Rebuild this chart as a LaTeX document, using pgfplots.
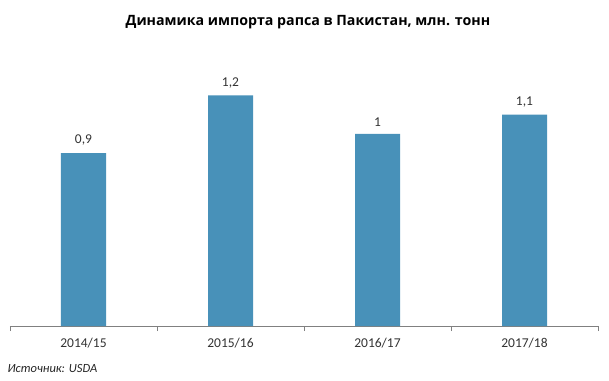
\documentclass[border=0pt]{standalone}
\usepackage{fontspec}
\setmainfont{Carlito}
\newfontfamily\titlefont{Open Sans}
\usepackage{pgfplots}
\pgfplotsset{compat=1.18}
\definecolor{barblue}{HTML}{4891B9}
\definecolor{axgray}{HTML}{808080}
\begin{document}
\begin{tikzpicture}
\useasboundingbox (0,0) rectangle (609pt,380pt);
\fill[white] (0,0) rectangle (609pt,380pt);
\begin{axis}[
  at={(10pt,54pt)}, anchor=south west,
  scale only axis, width=588pt, height=269pt,
  xmin=-0.5, xmax=3.5, ymin=0, ymax=1.4,
  axis y line=none,
  axis x line*=bottom,
  x axis line style={axgray, line width=0.8pt, -},
  xtick={0,1,2,3}, xticklabels={2014/15,2015/16,2016/17,2017/18},
  minor xtick={-0.5,0.5,1.5,2.5,3.5},
  major tick length=0pt,
  minor tick length=5pt,
  tick style={axgray, line width=0.8pt},
  xtick pos=bottom,
  tick align=outside,
  x tick label style={font=\fontsize{13.5}{15}\selectfont, text=black!80, yshift=-9pt},
  ybar, bar width=45pt,
  nodes near coords,
  nodes near coords style={font=\fontsize{13.5}{15}\selectfont, text=black!80, yshift=4pt},
  point meta=explicit symbolic,
  clip=false,
]
\addplot[fill=barblue, draw=none] coordinates {(0,0.9) [0,9] (1,1.2) [1,2] (2,1.0) [1] (3,1.1) [1,1]};
\end{axis}
\node[font=\titlefont\bfseries\fontsize{14.2}{16}\selectfont] at (308pt,358pt) {Динамика импорта рапса в Пакистан, млн. тонн};
\node[font=\itshape\fontsize{12.5}{14}\selectfont, anchor=west, text=black!85] at (4pt,12pt) {Источник: USDA};
\end{tikzpicture}
\end{document}
